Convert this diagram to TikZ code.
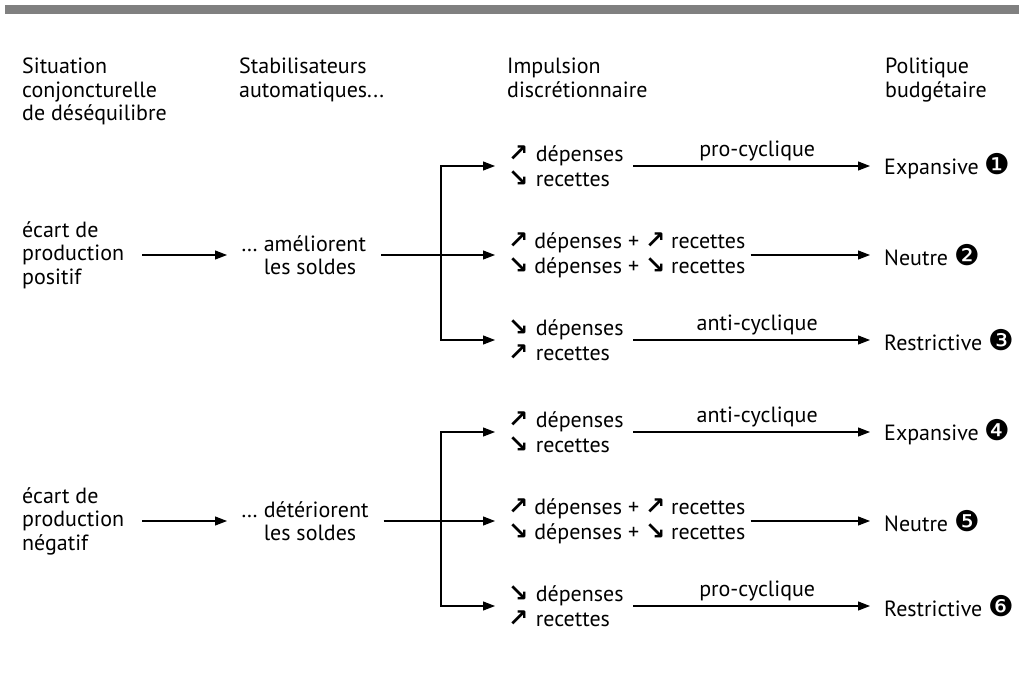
\documentclass[tikz,border=0pt]{standalone}
\usepackage{fontspec}
\setmainfont{PT Sans}
\newfontfamily\flechefont[Scale=1.1]{DejaVu Sans}
\newfontfamily\rangfont[Scale=1.3]{DejaVu Sans}
\usetikzlibrary{positioning, arrows.meta}

\newcommand{\hausse}{{\flechefont\bfseries ↗}}
\newcommand{\baisse}{{\flechefont\bfseries ↘}}
\newcommand{\rang}[1]{{\rangfont #1}}

\begin{document}
\begin{tikzpicture}[
    x=1pt, y=-1pt,
    every node/.style={inner sep=0pt, align=left, anchor=west,
        font=\fontsize{22}{23.5}\selectfont},
    head/.style={anchor=north west},
    var/.style={font=\fontsize{22}{25}\selectfont},
    imp/.style={var, text width=122pt},
    arr/.style={-{Triangle[length=12pt, width=9pt]}, line width=1.1pt},
    lab/.style={above=4pt}
]
\useasboundingbox (0,0) rectangle (1019,672);

% bandeau
\fill[black!50] (5,5) rectangle (1019,14);

% en-tetes
\node[head] (hSit) at (22,58) {Situation\\conjoncturelle\\de déséquilibre};
\node[head] (hSta) at (239,58) {Stabilisateurs\\automatiques...};
\node[head] (hImp) at (507,58) {Impulsion\\discrétionnaire};
\node[head] (hPol) at (885,58) {Politique\\budgétaire};

% ecart positif
\node (ecPos) at (22,255) {écart de\\production\\positif};
\node (stPos) at (241,255) {\dots\ améliorent\\\hphantom{\dots\ }les soldes};
\node[imp] (iPos1) at (508,166) {\hausse\ dépenses\\\baisse\ recettes};
\node[var] (iPos2) at (508,255) {\hausse\ dépenses + \hausse\ recettes\\\baisse\ dépenses + \baisse\ recettes};
\node[imp] (iPos3) at (508,340) {\baisse\ dépenses\\\hausse\ recettes};
\node (bPos1) at (884,166) {Expansive \rang{❶}};
\node (bPos2) at (884,255) {Neutre \rang{❷}};
\node (bPos3) at (884,340) {Restrictive \rang{❸}};
\coordinate (jPos) at (441,255);

\draw[arr, shorten <=18pt, shorten >=14pt] (ecPos.east) -- (stPos.west);
\draw[arr, shorten <=15pt, shorten >=13pt] (stPos.east) -- (iPos2.west);
\draw[arr, shorten >=13pt] (jPos) |- (iPos1.west);
\draw[arr, shorten >=13pt] (jPos) |- (iPos3.west);
\draw[arr, shorten <=3pt, shorten >=14pt] (iPos1.east) -- node[lab] (cPos1) {pro-cyclique} (bPos1.west);
\draw[arr, shorten <=5pt, shorten >=14pt] (iPos2.east) -- (bPos2.west);
\draw[arr, shorten <=3pt, shorten >=14pt] (iPos3.east) -- node[lab] (cPos3) {anti-cyclique} (bPos3.west);

% ecart negatif
\node (ecNeg) at (22,521) {écart de\\production\\négatif};
\node (stNeg) at (241,521) {\dots\ détériorent\\\hphantom{\dots\ }les soldes};
\node[imp] (iNeg1) at (508,432) {\hausse\ dépenses\\\baisse\ recettes};
\node[var] (iNeg2) at (508,521) {\hausse\ dépenses + \hausse\ recettes\\\baisse\ dépenses + \baisse\ recettes};
\node[imp] (iNeg3) at (508,606) {\baisse\ dépenses\\\hausse\ recettes};
\node (bNeg1) at (884,432) {Expansive \rang{❹}};
\node (bNeg2) at (884,521) {Neutre \rang{❺}};
\node (bNeg3) at (884,606) {Restrictive \rang{❻}};
\coordinate (jNeg) at (441,521);

\draw[arr, shorten <=18pt, shorten >=14pt] (ecNeg.east) -- (stNeg.west);
\draw[arr, shorten <=15pt, shorten >=13pt] (stNeg.east) -- (iNeg2.west);
\draw[arr, shorten >=13pt] (jNeg) |- (iNeg1.west);
\draw[arr, shorten >=13pt] (jNeg) |- (iNeg3.west);
\draw[arr, shorten <=3pt, shorten >=14pt] (iNeg1.east) -- node[lab] (cNeg1) {anti-cyclique} (bNeg1.west);
\draw[arr, shorten <=5pt, shorten >=14pt] (iNeg2.east) -- (bNeg2.west);
\draw[arr, shorten <=3pt, shorten >=14pt] (iNeg3.east) -- node[lab] (cNeg3) {pro-cyclique} (bNeg3.west);

\end{tikzpicture}
\end{document}
